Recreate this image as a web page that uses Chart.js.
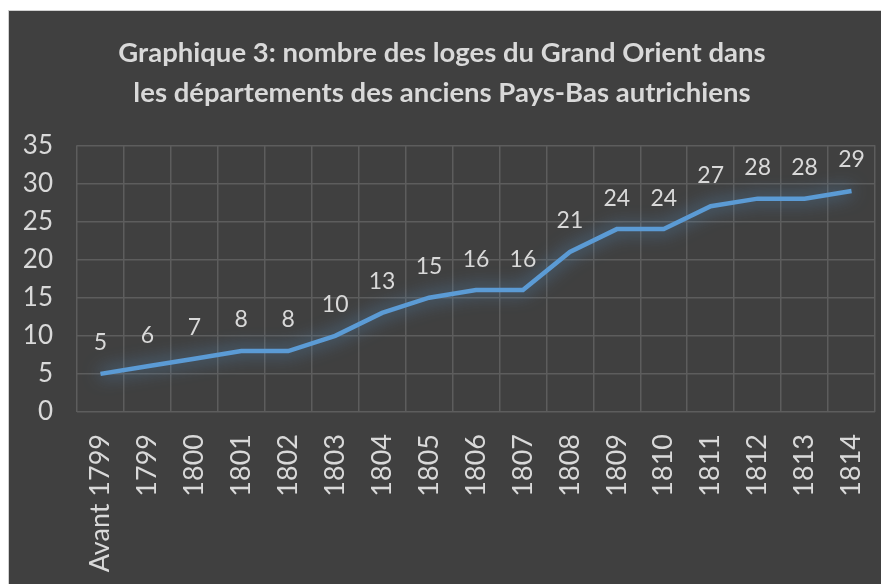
<!DOCTYPE html>
<html>
<head>
<meta charset="utf-8">
<script src="https://cdn.jsdelivr.net/npm/chart.js@4"></script>
<style>
  html, body { margin: 0; padding: 0; background: #ffffff; }
  #wrap { position: absolute; left: 8px; top: 10px; width: 873px; height: 574px; background: #404040; border-top: 1px solid #d0d0d0; border-left: 1px solid #d0d0d0; box-sizing: border-box; }
  canvas { display: block; }
</style>
</head>
<body>
<div id="wrap"><canvas id="chart" width="872" height="573"></canvas></div>
<script>
// chart data
const years = ['Avant 1799', '1799', '1800', '1801', '1802', '1803', '1804', '1805', '1806',
  '1807', '1808', '1809', '1810', '1811', '1812', '1813', '1814'];
const lodges = [5, 6, 7, 8, 8, 10, 13, 15, 16, 16, 21, 24, 24, 27, 28, 28, 29];
const yTicks = [0, 5, 10, 15, 20, 25, 30, 35];
const titleLines = ['Graphique 3: nombre des loges du Grand Orient dans',
  'les départements des anciens Pays-Bas autrichiens'];

const textColor = '#d9d9d9';
const gridColor = '#5d5d5d';
const lineColor = '#5b9bd5';

// soft glow under the line
const glowPlugin = {
  id: 'glow',
  beforeDatasetsDraw(chart) {
    const ctx = chart.ctx;
    ctx.save();
    ctx.shadowColor = 'rgba(91, 155, 213, 0.85)';
    ctx.shadowBlur = 18;
  },
  afterDatasetsDraw(chart) {
    chart.ctx.restore();
  }
};

// value labels above each point
const valueLabels = {
  id: 'valueLabels',
  afterDatasetsDraw(chart) {
    const ctx = chart.ctx;
    const meta = chart.getDatasetMeta(0);
    ctx.save();
    ctx.fillStyle = textColor;
    ctx.font = '23px Lato';
    ctx.textAlign = 'center';
    ctx.textBaseline = 'middle';
    meta.data.forEach((pt, i) => {
      ctx.fillText(String(lodges[i]), pt.x, pt.y - 31);
    });
    ctx.restore();
  }
};

new Chart(document.getElementById('chart'), {
  type: 'line',
  data: {
    labels: years,
    datasets: [{
      data: lodges,
      borderColor: lineColor,
      borderWidth: 4.5,
      pointRadius: 0,
      tension: 0,
      fill: false
    }]
  },
  options: {
    responsive: false,
    animation: false,
    layout: { padding: { left: 0, right: 6, top: 0, bottom: 0 } },
    plugins: {
      legend: { display: false },
      tooltip: { enabled: false },
      title: {
        display: true,
        text: titleLines,
        color: textColor,
        font: { family: 'Lato', size: 27.5, weight: 'bold', lineHeight: 1.46 },
        padding: { top: 22, bottom: 32 }
      }
    },
    scales: {
      x: {
        offset: true,
        grid: { color: gridColor, lineWidth: 1.5, offset: true, drawTicks: false },
        border: { display: false },
        ticks: {
          color: textColor,
          font: { family: 'Lato', size: 27 },
          maxRotation: 90,
          minRotation: 90,
          padding: 22,
          autoSkip: false
        },
        afterFit(scale) {
          scale.height = 172;
          scale.paddingLeft = 0;
          scale.paddingRight = 0;
        }
      },
      y: {
        min: 0,
        max: 35,
        grid: { color: gridColor, lineWidth: 1.5, drawTicks: false },
        border: { display: false },
        afterBuildTicks(scale) { scale.ticks = yTicks.map(v => ({ value: v })); },
        ticks: {
          color: textColor,
          font: { family: 'Lato', size: 26 },
          padding: 24
        },
        afterFit(scale) { scale.width = 68; }
      }
    }
  },
  plugins: [glowPlugin, valueLabels]
});
</script>
</body>
</html>
